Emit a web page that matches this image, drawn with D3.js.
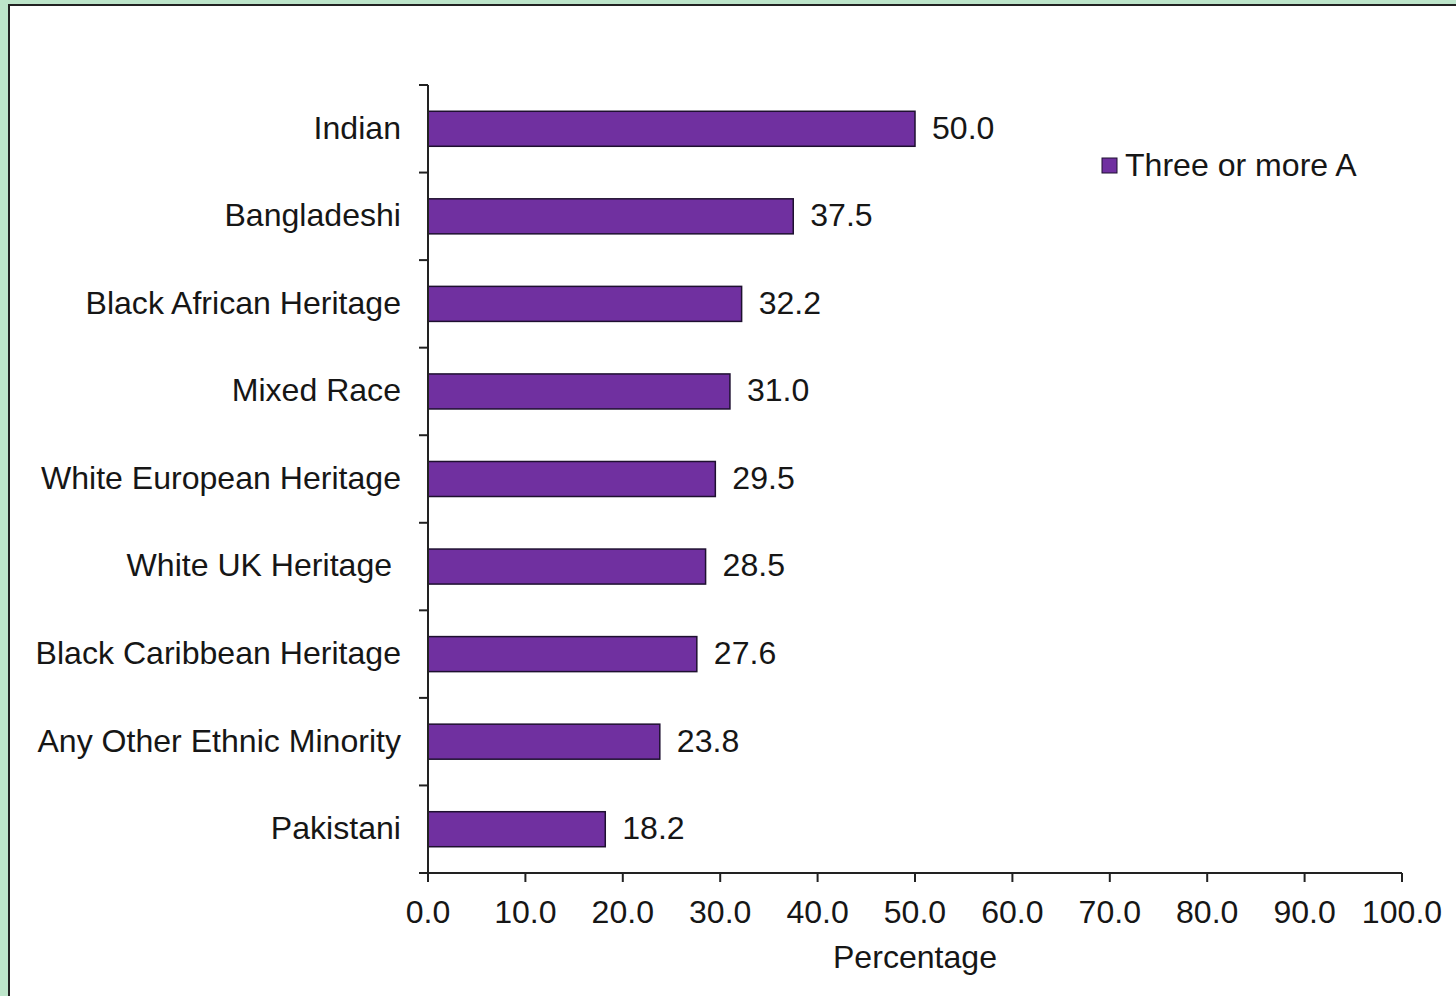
<!DOCTYPE html>
<html>
<head>
<meta charset="utf-8">
<script src="https://cdn.jsdelivr.net/npm/d3@7"></script>
<style>
  html, body { margin: 0; padding: 0; background: #bde5ca; }
  svg { display: block; }
  text { font-family: "Liberation Sans", Arial, sans-serif; fill: #161616; }
</style>
</head>
<body>
<div id="chart"></div>
<script>
// Chart data
const categories = [
    "Indian",
    "Bangladeshi",
    "Black African Heritage",
    "Mixed Race",
    "White European Heritage",
    "White UK Heritage ",
    "Black Caribbean Heritage",
    "Any Other Ethnic Minority",
    "Pakistani"
];
const values = [50.0, 37.5, 32.2, 31.0, 29.5, 28.5, 27.6, 23.8, 18.2];
const xTicks = [0, 10, 20, 30, 40, 50, 60, 70, 80, 90, 100];
const seriesName = "Three or more A";
const axisTitle = "Percentage";

const width = 1456, height = 996;
const plot = { left: 428, right: 1402, top: 85, bottom: 873 };

const svg = d3.select("#chart")
    .append("svg")
    .attr("width", width)
    .attr("height", height);

// White chart area with dark border on left/top
svg.append("rect")
    .attr("x", 8)
    .attr("y", 4)
    .attr("width", width)
    .attr("height", height)
    .attr("fill", "#ffffff");
svg.append("path")
    .attr("d", `M9,${height} V5 H${width}`)
    .attr("fill", "none")
    .attr("stroke", "#222")
    .attr("stroke-width", 2);

const x = d3.scaleLinear().domain([0, 100]).range([plot.left, plot.right]);
const y = d3.scaleBand().domain(categories).range([plot.top, plot.bottom]).paddingInner(0.6).paddingOuter(0.3);
const yBands = d3.scaleBand().domain(categories).range([plot.top, plot.bottom]);

const fontSize = 31;
// reference text is slightly wider than Arial metrics
const stretch = 1.035;

function wideText(sel, px, py) {
    sel.attr("transform", (d, i) => `translate(${px(d, i)},${py(d, i)}) scale(${stretch},1)`);
}

// Bars
svg.append("g")
    .selectAll("rect")
    .data(categories)
    .join("rect")
    .attr("x", x(0))
    .attr("y", d => y(d))
    .attr("width", (d, i) => x(values[i]) - x(0))
    .attr("height", y.bandwidth())
    .attr("fill", "#7030a0")
    .attr("stroke", "#1e1030")
    .attr("stroke-width", 1.5);

// Value labels
svg.append("g")
    .selectAll("text")
    .data(categories)
    .join("text")
    .call(wideText, (d, i) => x(values[i]) + 17, d => y(d) + y.bandwidth() / 2)
    .attr("dy", "0.32em")
    .attr("font-size", fontSize)
    .text((d, i) => values[i].toFixed(1));

// Y axis: line and ticks at band boundaries
const yAxis = svg.append("g");
yAxis.append("line")
    .attr("x1", plot.left).attr("x2", plot.left)
    .attr("y1", plot.top).attr("y2", plot.bottom)
    .attr("stroke", "#222").attr("stroke-width", 2);
const bounds = categories.map(d => yBands(d)).concat([plot.bottom]);
yAxis.selectAll("line.tick")
    .data(bounds)
    .join("line")
    .attr("class", "tick")
    .attr("x1", plot.left - 9).attr("x2", plot.left)
    .attr("y1", d => d).attr("y2", d => d)
    .attr("stroke", "#222").attr("stroke-width", 2);
yAxis.selectAll("text")
    .data(categories)
    .join("text")
    .call(wideText, () => 401, d => yBands(d) + yBands.bandwidth() / 2)
    .attr("dy", "0.32em")
    .attr("text-anchor", "end")
    .attr("font-size", fontSize)
    .style("white-space", "pre")
    .text(d => d);

// X axis
const xAxis = svg.append("g");
xAxis.append("line")
    .attr("x1", plot.left).attr("x2", plot.right)
    .attr("y1", plot.bottom).attr("y2", plot.bottom)
    .attr("stroke", "#222").attr("stroke-width", 2);
xAxis.selectAll("line.tick")
    .data(xTicks)
    .join("line")
    .attr("class", "tick")
    .attr("x1", d => x(d)).attr("x2", d => x(d))
    .attr("y1", plot.bottom).attr("y2", plot.bottom + 9)
    .attr("stroke", "#222").attr("stroke-width", 2);
xAxis.selectAll("text")
    .data(xTicks)
    .join("text")
    .call(wideText, d => x(d), () => 923)
    .attr("text-anchor", "middle")
    .attr("font-size", fontSize)
    .text(d => d.toFixed(1));

// Axis title
svg.append("text")
    .datum(axisTitle)
    .call(wideText, () => (plot.left + plot.right) / 2, () => 968)
    .attr("text-anchor", "middle")
    .attr("font-size", fontSize)
    .text(axisTitle);

// Legend
const legend = svg.append("g");
legend.append("rect")
    .attr("x", 1102).attr("y", 158)
    .attr("width", 15).attr("height", 15)
    .attr("fill", "#7030a0")
    .attr("stroke", "#1e1030")
    .attr("stroke-width", 1);
legend.append("text")
    .datum(seriesName)
    .call(wideText, () => 1125, () => 176)
    .attr("font-size", fontSize)
    .text(seriesName);
</script>
</body>
</html>
